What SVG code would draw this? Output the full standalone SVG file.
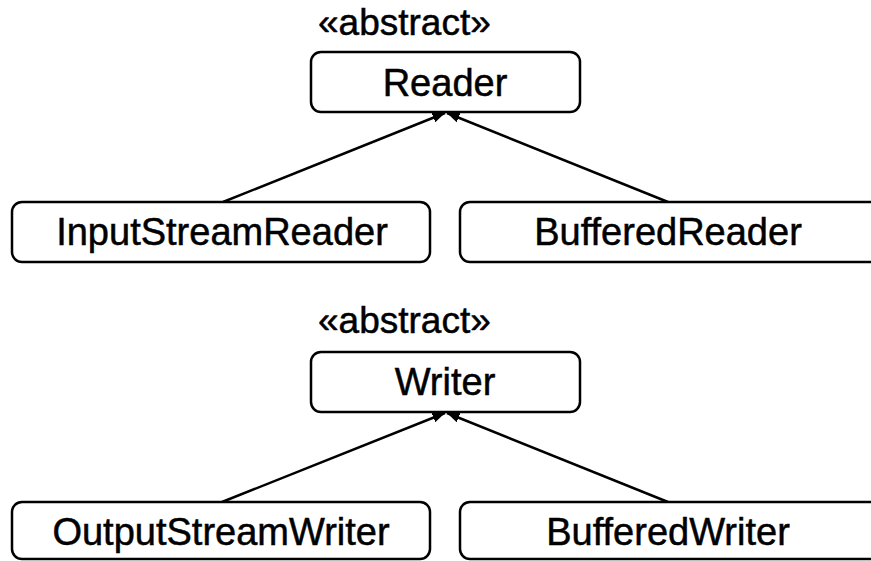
<svg xmlns="http://www.w3.org/2000/svg" width="871" height="561" viewBox="0 0 871 561">
<style>
.box{fill:#fff;stroke:#000;stroke-width:2.5}
.t{font-family:"Liberation Sans",Arial,sans-serif;font-size:38px;fill:#000;stroke:#000;stroke-width:0.5;text-anchor:middle}
.st{font-family:"Liberation Sans",Arial,sans-serif;font-size:37px;fill:#000;stroke:#000;stroke-width:0.5}
.c{stroke:#000;stroke-width:2.5;fill:none;marker-end:url(#ah)}
</style>
<defs>
<marker id="ah" viewBox="0 0 10 8" refX="10" refY="4" markerWidth="5" markerHeight="4" orient="auto" markerUnits="strokeWidth">
<path d="M0,0 L10,4 L0,8 z" fill="#000"/>
</marker>
</defs>
<rect width="871" height="561" fill="#fff"/>
<g id="connectors">
<line class="c" x1="223" y1="202" x2="445" y2="113"/>
<line class="c" x1="668" y1="202" x2="447" y2="113"/>
<line class="c" x1="222" y1="502" x2="445" y2="413"/>
<line class="c" x1="668" y1="502" x2="447" y2="413"/>
</g>
<g id="reader">
<text class="st" x="318" y="35">«abstract»</text>
<rect class="box" x="311" y="52" width="269" height="60" rx="10"/>
<text class="t" x="445" y="96">Reader</text>
</g>
<g id="inputstreamreader">
<rect class="box" x="12" y="202" width="418" height="60" rx="10"/>
<text class="t" x="222" y="245">InputStreamReader</text>
</g>
<g id="bufferedreader">
<rect class="box" x="460" y="202" width="420" height="60" rx="10"/>
<text class="t" x="668" y="245">BufferedReader</text>
</g>
<g id="writer">
<text class="st" x="318" y="333">«abstract»</text>
<rect class="box" x="311" y="352" width="269" height="60" rx="10"/>
<text class="t" x="445" y="395">Writer</text>
</g>
<g id="outputstreamwriter">
<rect class="box" x="12" y="502" width="418" height="57" rx="10"/>
<text class="t" x="221" y="545">OutputStreamWriter</text>
</g>
<g id="bufferedwriter">
<rect class="box" x="460" y="502" width="420" height="57" rx="10"/>
<text class="t" x="668" y="545">BufferedWriter</text>
</g>
</svg>
